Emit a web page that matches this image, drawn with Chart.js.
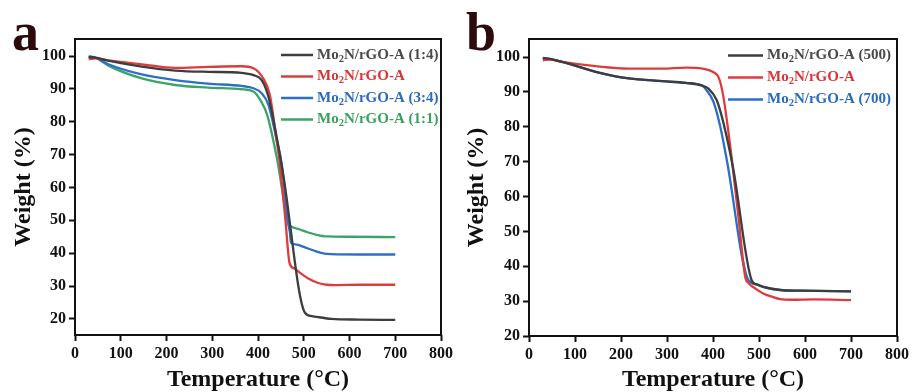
<!DOCTYPE html>
<html>
<head>
<meta charset="utf-8">
<script src="https://cdn.jsdelivr.net/npm/chart.js@4"></script>
<style>
  body { margin: 0; background: #fff; }
  #wrap { position: relative; width: 912px; height: 392px; overflow: hidden; background: #fff; }
  .panel { position: absolute; top: 0; width: 456px; height: 392px; }
  .tag { position: absolute; font: bold 54px "Liberation Serif", "Times New Roman", serif; color: #2b0b0b; line-height: 1; }
</style>
</head>
<body>
<div id="wrap">
  <div class="panel" style="left:0"><canvas id="chartA"></canvas></div>
  <div class="panel" style="left:456px"><canvas id="chartB"></canvas></div>
  <div class="tag" style="left:12px; top:5px">a</div>
  <div class="tag" style="left:466px; top:5px">b</div>
</div>
<script>
// TGA curves, temperature in degC and remaining weight in %
// panel a: different precursor ratios
const a14Temp   = [30, 45, 72, 146, 219, 291, 364, 390, 408, 422, 440, 455, 503, 520, 560, 620, 700];
const a14Weight = [99.7, 99.5, 98.6, 96.8, 95.6, 95.2, 94.9, 94.2, 92.7, 88, 76, 64, 21.8, 20.8, 20.0, 19.8, 19.7];

const aRefTemp   = [30, 45, 72, 146, 219, 291, 364, 390, 411, 426, 440, 448, 460, 469, 480, 492, 510, 530, 550, 570, 620, 700];
const aRefWeight = [99.1, 99.3, 98.7, 97.5, 96.4, 96.7, 96.9, 96.3, 93.3, 88.1, 75, 67, 50, 37, 35.3, 34, 32.3, 31, 30.4, 30.3, 30.4, 30.4];

const a34Temp   = [30, 45, 73, 146, 219, 291, 364, 390, 408, 423, 440, 452, 465, 470, 472, 485, 500, 520, 540, 560, 620, 700];
const a34Weight = [99.8, 99.5, 97.5, 94.4, 92.7, 91.6, 90.9, 90.2, 88.7, 85.1, 75, 67, 50, 46, 43.2, 42.6, 41.9, 40.9, 40.0, 39.7, 39.6, 39.6];

const a11Temp   = [30, 45, 73, 146, 219, 291, 364, 390, 405, 420, 442, 466, 470, 490, 510, 528, 550, 600, 700];
const a11Weight = [100, 99.5, 97.1, 93.2, 91.2, 90.4, 89.9, 89.2, 86.6, 82.1, 68.4, 49, 48.3, 47.3, 46.3, 45.6, 45.1, 45.0, 44.9];

// panel b: different annealing temperatures
const b500Temp   = [30, 45, 72, 145, 217, 290, 341, 377, 390, 408, 422, 444, 484, 495, 509, 546, 590, 700];
const b500Weight = [99.8, 99.5, 98.65, 95.8, 93.9, 93.1, 92.6, 91.8, 91.0, 87.7, 81.5, 68, 36, 34.8, 34.1, 33.2, 33.0, 32.8];

const bRefTemp   = [30, 45, 72, 145, 217, 290, 341, 377, 399, 413, 422, 437, 441, 455, 470, 478, 490, 509, 530, 546, 570, 620, 700];
const bRefWeight = [99.1, 99.3, 98.65, 97.4, 96.7, 96.7, 97.0, 96.7, 95.8, 93.9, 89.1, 75, 70.5, 54.5, 37, 35.1, 33.8, 32.2, 31.2, 30.6, 30.4, 30.5, 30.3];

const b700Temp   = [30, 45, 72, 145, 217, 290, 341, 377, 386, 401, 415, 430, 477, 495, 509, 546, 590, 700];
const b700Weight = [99.8, 99.5, 98.65, 95.8, 93.9, 93.1, 92.6, 91.8, 90.5, 87.2, 80.5, 70.5, 36, 34.8, 34.1, 33.2, 33.0, 32.8];

const tempTicks = [0, 100, 200, 300, 400, 500, 600, 700, 800];
const weightTicks = [20, 30, 40, 50, 60, 70, 80, 90, 100];

const SERIF = '"Liberation Serif", "Times New Roman", serif';
const INK = '#111';

function pairs(xs, ys) {
  return xs.map((x, i) => ({ x: x, y: ys[i] }));
}

function series(label, xs, ys, color, textColor) {
  return {
    label: label,
    data: pairs(xs, ys),
    borderColor: color,
    labelColor: textColor,
    borderWidth: 2.3,
    pointRadius: 0,
    fill: false,
    cubicInterpolationMode: 'monotone'
  };
}

// closed box around the plot area
const frame = {
  id: 'frame',
  afterDatasetsDraw(chart) {
    const { ctx, chartArea: c } = chart;
    ctx.save();
    ctx.strokeStyle = INK;
    ctx.lineWidth = 2;
    ctx.strokeRect(c.left, c.top, c.right - c.left, c.bottom - c.top);
    ctx.restore();
  }
};

// legend inside the plot, text coloured like its line, "2" as subscript
const insetLegend = {
  id: 'insetLegend',
  afterDatasetsDraw(chart, args, opts) {
    const ctx = chart.ctx;
    ctx.save();
    ctx.textBaseline = 'middle';
    chart.data.datasets.forEach((ds, i) => {
      const y = opts.top + i * opts.gap;
      ctx.strokeStyle = ds.borderColor;
      ctx.lineWidth = 2.5;
      ctx.beginPath();
      ctx.moveTo(opts.lineStart, y);
      ctx.lineTo(opts.lineEnd, y);
      ctx.stroke();

      const parts = ds.label.split('\u2082');
      let x = opts.textX;
      ctx.fillStyle = ds.labelColor;
      ctx.font = 'bold 15px ' + SERIF;
      ctx.fillText(parts[0], x, y);
      x += ctx.measureText(parts[0]).width;
      ctx.font = 'bold 10.5px ' + SERIF;
      ctx.fillText('2', x, y + 4);
      x += ctx.measureText('2').width;
      ctx.font = 'bold 15px ' + SERIF;
      ctx.fillText(parts[1], x, y);
    });
    ctx.restore();
  }
};

function makePanel(id, datasets, cfg) {
  const tickFont = { family: SERIF, size: 16, weight: 'bold' };
  const titleFont = { family: SERIF, size: 24, weight: 'bold', lineHeight: 1 };
  const axisGrid = { drawOnChartArea: false, drawTicks: true, tickLength: 6, tickWidth: 2, tickColor: INK };

  return new Chart(document.getElementById(id), {
    type: 'line',
    data: { datasets: datasets },
    options: {
      responsive: true,
      maintainAspectRatio: false,
      animation: false,
      devicePixelRatio: 1,
      layout: { padding: { top: 39, right: cfg.padRight, left: 0, bottom: 0 } },
      plugins: {
        legend: { display: false },
        tooltip: { enabled: false },
        insetLegend: cfg.legend
      },
      scales: {
        x: {
          type: 'linear',
          min: 0,
          max: 800,
          afterBuildTicks: s => { s.ticks = tempTicks.map(v => ({ value: v })); },
          afterFit: s => { s.height = cfg.xAxisHeight; },
          ticks: { color: INK, font: tickFont, padding: 3, maxRotation: 0 },
          grid: axisGrid,
          border: { display: false },
          title: { display: true, text: 'Temperature (\u00B0C)', color: INK, font: titleFont, padding: { top: 0, bottom: 0 } }
        },
        y: {
          min: cfg.yMin,
          max: 105.2,
          afterBuildTicks: s => { s.ticks = weightTicks.map(v => ({ value: v })); },
          afterFit: s => { s.width = cfg.yAxisWidth; },
          ticks: { color: INK, font: tickFont, padding: 3 },
          grid: axisGrid,
          border: { display: false },
          title: { display: true, text: 'Weight (%)', color: INK, font: titleFont, padding: { top: cfg.yTitlePad, bottom: 0 } }
        }
      }
    },
    plugins: [frame, insetLegend]
  });
}

makePanel('chartA', [
  series('Mo\u2082N/rGO-A (1:4)', a14Temp, a14Weight, '#3d3d3d', '#4a4a4a'),
  series('Mo\u2082N/rGO-A', aRefTemp, aRefWeight, '#de3b3f', '#d8353a'),
  series('Mo\u2082N/rGO-A (3:4)', a34Temp, a34Weight, '#2c6fc9', '#2a6bbd'),
  series('Mo\u2082N/rGO-A (1:1)', a11Temp, a11Weight, '#3ca466', '#3aa060')
], {
  yMin: 15.1, yAxisWidth: 75, xAxisHeight: 57, padRight: 14, yTitlePad: 12,
  legend: { lineStart: 281, lineEnd: 313, textX: 317, top: 55, gap: 21.5 }
});

makePanel('chartB', [
  series('Mo\u2082N/rGO-A (500)', b500Temp, b500Weight, '#3d3d3d', '#4a4a4a'),
  series('Mo\u2082N/rGO-A', bRefTemp, bRefWeight, '#de3b3f', '#d8353a'),
  series('Mo\u2082N/rGO-A (700)', b700Temp, b700Weight, '#2c6fc9', '#2a6bbd')
], {
  yMin: 20, yAxisWidth: 73, xAxisHeight: 56, padRight: 15, yTitlePad: 9,
  legend: { lineStart: 272, lineEnd: 307, textX: 311, top: 55.5, gap: 22 }
});
</script>
</body>
</html>
